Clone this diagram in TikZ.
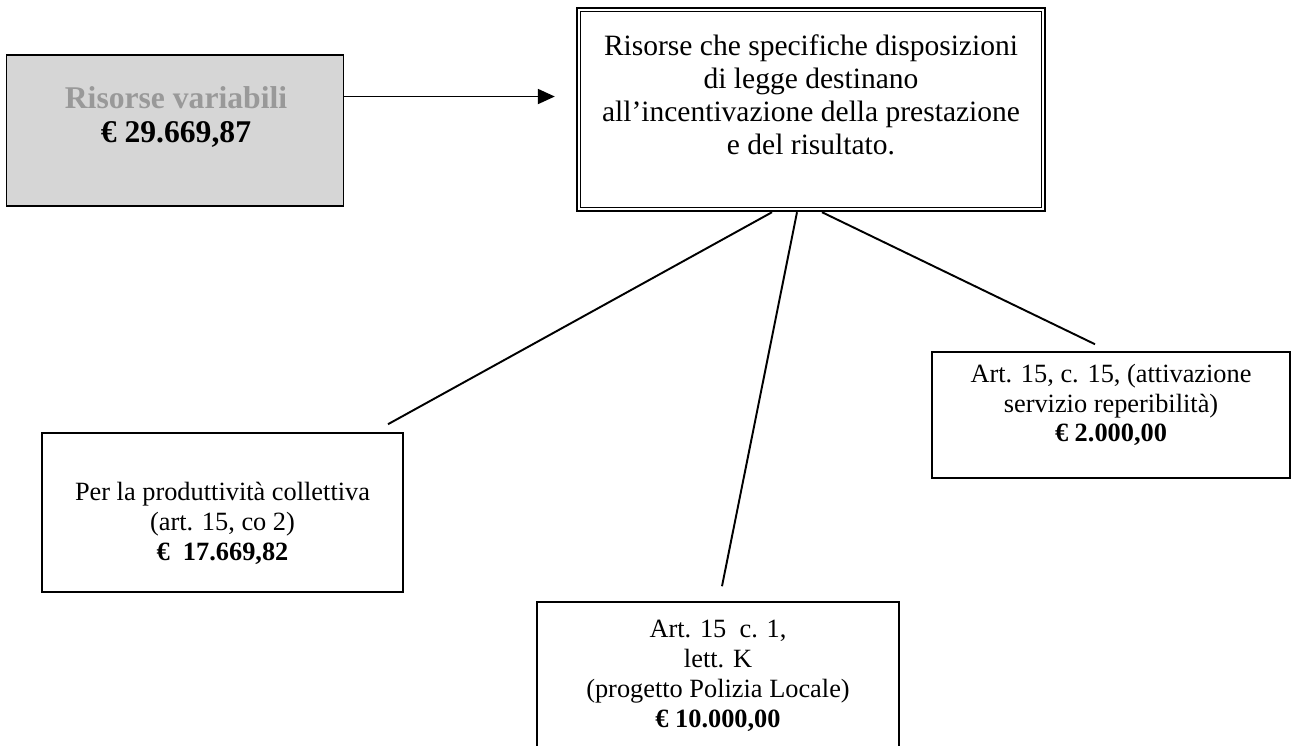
\documentclass[tikz,border=0pt]{standalone}
\usepackage{fontspec}
\setmainfont{Liberation Serif}
\usetikzlibrary{arrows.meta}

\tikzset{
  box/.style={draw, line width=0.9pt, inner sep=0pt},
  greybox/.style={box, fill=gray!32},
  txt/.style={align=center, font=\fontsize{15}{17}\selectfont},
  link/.style={line width=1.1pt},
}

\begin{document}
\begin{tikzpicture}[x=0.02cm, y=-0.02cm]
\useasboundingbox (0,0) rectangle (1295,745);

% boxes
\node[greybox, minimum width=6.74cm, minimum height=3.02cm] (var) at (175,130.5) {};
\node[draw, line width=1.4pt, inner sep=0pt, minimum width=9.36cm, minimum height=4.06cm] (dest) at (811,109.5) {};
\draw[line width=0.6pt] ([shift={(0.1cm,-0.1cm)}]dest.north west) rectangle ([shift={(-0.1cm,0.1cm)}]dest.south east);
\node[box, minimum width=7.22cm, minimum height=3.18cm] (prod) at (222.5,512.5) {};
\node[box, minimum width=7.24cm, minimum height=3.2cm] (pol) at (718,682) {};
\node[box, minimum width=7.16cm, minimum height=2.52cm] (rep) at (1111,415) {};

% texts
\node[align=center, font=\bfseries\fontsize{18}{19.5}\selectfont] (vartxt) at (176,117)
  {\textcolor{gray!80}{Risorse variabili}\\ € 29.669,87};
\node[align=center, font=\fontsize{16.8}{18.8}\selectfont] (desttxt) at (811,95)
  {Risorse che specifiche disposizioni\\ di legge destinano\\ all’incentivazione della prestazione\\ e del risultato.};
\node[txt] (prodtxt) at (222.5,523)
  {Per la produttività collettiva\\ (art. 15, co 2)\\ \textbf{€ \ 17.669,82}};
\node[txt] (poltxt) at (718,676)
  {Art. 15 \ c. 1,\\ lett. K\\ (progetto Polizia Locale)\\ \textbf{€ 10.000,00}};
\node[txt] (reptxt) at (1111,405)
  {Art. 15, c. 15, (attivazione\\ servizio reperibilità)\\ \textbf{€ 2.000,00}};

% connectors
\draw[line width=1.1pt, -{Triangle[length=0.34cm,width=0.3cm]}, shorten >=0.42cm]
  ([yshift=0.68cm]var.east) -- ([yshift=0.68cm]var.east -| dest.west);
\draw[link] ([xshift=-0.78cm]dest.south) -- ([xshift=3.31cm,yshift=0.16cm]prod.north);
\draw[link] ([xshift=-0.28cm]dest.south) -- ([xshift=0.08cm,yshift=0.3cm]pol.north);
\draw[link] ([xshift=0.22cm]dest.south) -- ([xshift=-0.32cm,yshift=0.14cm]rep.north);
\end{tikzpicture}
\end{document}
